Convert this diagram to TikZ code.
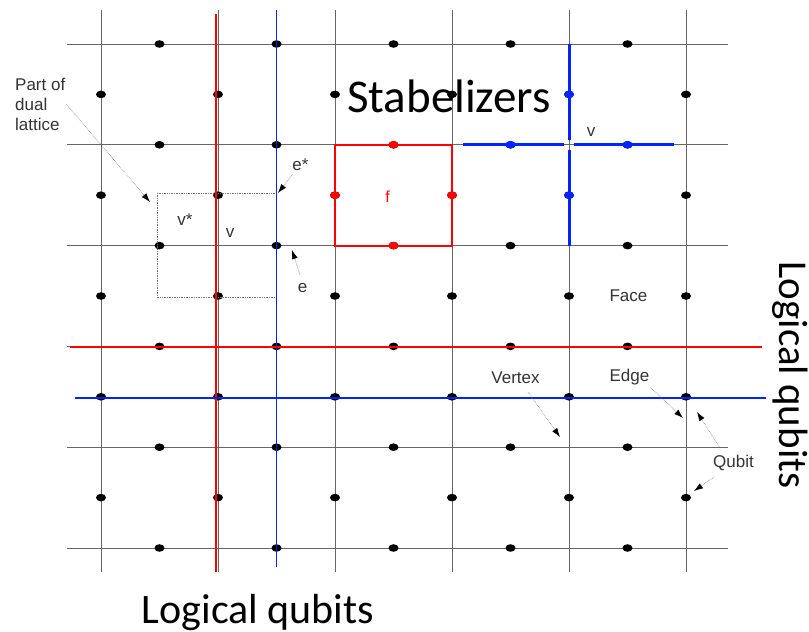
\documentclass[tikz,border=0pt]{standalone}
\usepackage{fontspec}
\setmainfont{Liberation Sans}
\newfontfamily\calibrifont{Carlito}
\usetikzlibrary{arrows.meta}
\definecolor{lblgray}{RGB}{51,51,51}
\definecolor{qred}{RGB}{255,0,0}
\definecolor{qblue}{RGB}{0,36,255}
\tikzset{
  gridline/.style={black!60,line width=0.8pt},
  ptr/.style={densely dotted,black!55,line width=0.6pt,-{Latex[color=black,length=9pt,width=6pt]}},
  lbl/.style={text=lblgray,font=\fontsize{17}{20}\selectfont,inner sep=1pt},
  bigtxt/.style={font=\calibrifont\fontsize{42}{50}\selectfont,inner sep=0pt}
}
\begin{document}
\begin{tikzpicture}[x=1pt,y=-1pt]
\useasboundingbox (0,0) rectangle (809,632);
% lattice
\foreach \i in {0,...,5}
\draw[gridline] (101+117*\i,10)--(101+117*\i,572);
\foreach \j in {0,...,5}
\draw[gridline] (67,44+100.8*\j)--(728,44+100.8*\j);
% qubits
\foreach \i in {0,...,4}
\foreach \j in {0,...,5}
\fill (159.5+117*\i,44+100.8*\j) ellipse (5 and 3.8);
\foreach \i in {0,...,5}
\foreach \j in {0,...,4}
\fill (101+117*\i,94.4+100.8*\j) ellipse (5 and 3.8);
% dual lattice
\draw[densely dotted,black!55,line width=0.7pt] (157,193) rectangle (276,297);
% face stabilizer
\draw[qred,line width=2.2pt] (335,144.8) rectangle (452,245.6);
\foreach \p in {(393.5,144.8),(335,195.2),(452,195.2),(393.5,245.6)}
\fill[qred] \p ellipse (5 and 3.8);
\node[text=qred,font=\fontsize{16}{18}\selectfont,anchor=base] (ftxt) at (387.5,202) {f};
% vertex stabilizer
\draw[qblue,line width=3pt] (569,44)--(569,140) (569,150)--(569,246);
\draw[qblue,line width=3pt] (463,144.8)--(564,144.8) (574,144.8)--(674,144.8);
\foreach \p in {(569,94.4),(510.5,144.8),(627.5,144.8),(569,195.2)}
\fill[qblue] \p ellipse (5 and 3.8);
\node[text=qblue,lbl,anchor=base] (vstar) at (591,136) {v};
% logical operators
\draw[qred,line width=1.8pt] (216,14)--(216,572);
\draw[qblue,line width=1.5pt] (276.5,10)--(276.5,567);
\draw[qred,line width=1.8pt] (70,347)--(762,347);
\draw[qblue,line width=1.5pt] (75,398)--(766,398);
% labels
\node[bigtxt,font=\calibrifont\fontsize{47}{56}\selectfont,anchor=base] (stab) at (449,112) {Stabelizers};
\node[bigtxt,anchor=base] (logbot) at (258,623) {Logical qubits};
\node[bigtxt,font=\calibrifont\fontsize{41}{50}\selectfont,anchor=base,rotate=-90] (logright) at (779,375) {Logical qubits};
\node[lbl,align=left,anchor=north west] (dualtxt) at (14,77) {Part of\\dual\\lattice};
\node[lbl,anchor=base] (vdual) at (185,225) {v*};
\node[lbl,anchor=base] (vprim) at (230,237) {v};
\node[lbl,anchor=base] (estar) at (300.5,170) {e*};
\node[lbl,anchor=base] (etxt) at (302.5,292) {e};
\node[lbl,anchor=base] (facetxt) at (628.5,301) {Face};
\node[lbl,anchor=base] (vertextxt) at (515.5,383) {Vertex};
\node[lbl,anchor=base] (edgetxt) at (629.5,381) {Edge};
\node[lbl,anchor=base] (qubittxt) at (733.5,467) {Qubit};
% pointers
\coordinate (dualtip) at (150,202);
\coordinate (estartail) at (293,174);
\coordinate (estartip) at (278,193);
\coordinate (etail) at (300,275);
\coordinate (etip) at (292,250);
\coordinate (vertextail) at (528,392);
\coordinate (vertextip) at (560,437);
\coordinate (edgetail) at (650,387);
\coordinate (edgetip) at (683,418);
\coordinate (qubittailA) at (720,448);
\coordinate (qubittipA) at (697,412);
\coordinate (qubittailB) at (714,477);
\coordinate (qubittipB) at (694,491);
\draw[ptr] (dualtxt.east) -- (dualtip);
\draw[ptr] (estartail) -- (estartip);
\draw[ptr] (etail) -- (etip);
\draw[ptr] (vertextail) -- (vertextip);
\draw[ptr] (edgetail) -- (edgetip);
\draw[ptr] (qubittailA) -- (qubittipA);
\draw[ptr] (qubittailB) -- (qubittipB);
\end{tikzpicture}
\end{document}
